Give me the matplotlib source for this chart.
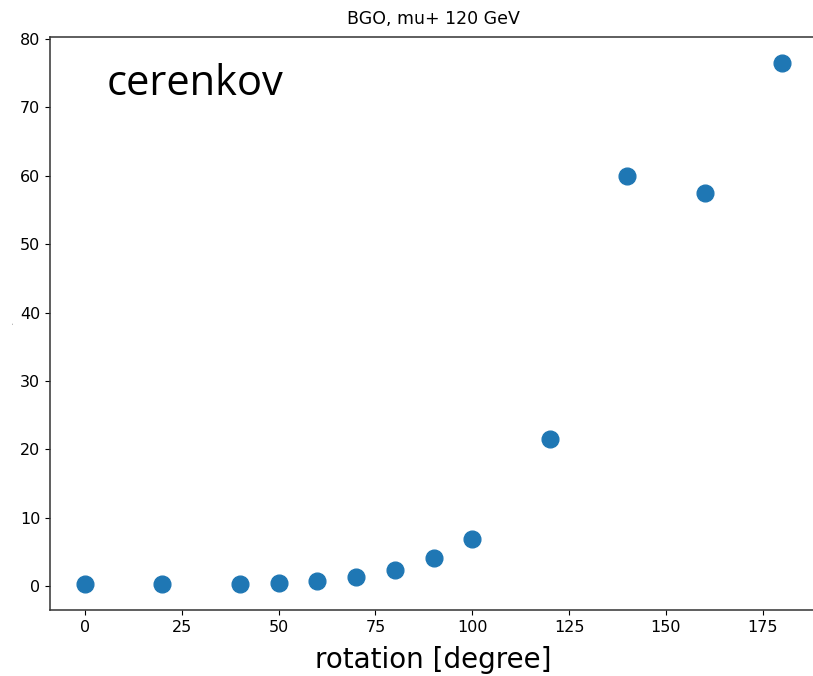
import numpy as np
import matplotlib.pyplot as plt

# rotation scan, BGO crystal, mu+ 120 GeV beam
angle = [0, 20, 40, 50, 60, 70, 80, 90, 100, 120, 140, 160, 180]
signal = [0.3, 0.3, 0.3, 0.4, 0.7, 1.3, 2.3, 4.1, 6.9, 21.5, 60.0, 57.5, 76.5]

fig = plt.figure(figsize=(8.13, 6.76), dpi=100)
ax = fig.add_axes([50 / 813, 1 - 610 / 676, 767 / 813, 573 / 676])

ax.scatter(angle, signal, s=145, color='#1f77b4')

ax.set_title('BGO, mu+ 120 GeV', fontsize=12.5, pad=9)
ax.set_xlabel('rotation [degree]', fontsize=20, labelpad=8)
ax.set_ylabel('.', fontsize=4)
ax.tick_params(labelsize=11.5)
ax.spines['right'].set_visible(False)
for side in ['left', 'top', 'bottom']:
    ax.spines[side].set_color('#333333')
    ax.spines[side].set_linewidth(1.1)

ax.text(0.074, 0.955, 'cerenkov', transform=ax.transAxes, fontsize=30,
        family='Open Sans', va='top', ha='left')

fig.savefig('out.png', dpi=100)
